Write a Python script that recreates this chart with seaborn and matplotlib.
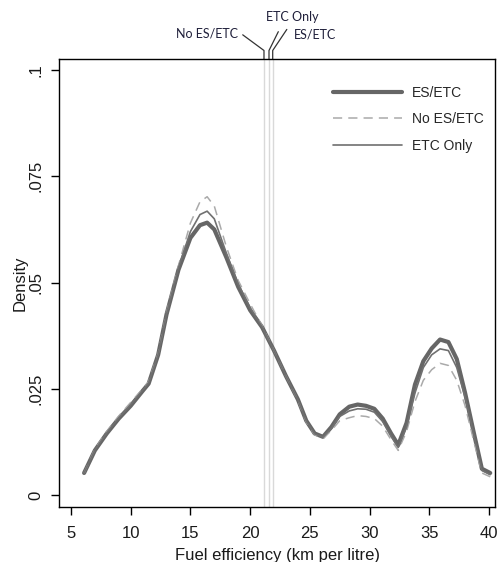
import pandas as pd
import matplotlib
matplotlib.use("Agg")
import matplotlib.pyplot as plt
import seaborn as sns

# evaluation points of the density curves (km per litre)
fuel = [6.1, 7.0, 8.0, 9.0, 10.0, 11.0, 11.5, 12.3, 13.0, 14.0, 15.0, 15.8,
        16.4, 17.0, 18.0, 19.0, 20.0, 21.0, 22.0, 23.0, 24.0, 24.7, 25.4,
        26.1, 26.8, 27.5, 28.3, 29.0, 29.7, 30.4, 31.1, 31.8, 32.4, 33.1,
        33.8, 34.5, 35.2, 35.9, 36.6, 37.3, 38.0, 38.7, 39.4, 40.1]

es_etc = [0.0052, 0.0105, 0.0145, 0.0180, 0.0210, 0.0245, 0.0262, 0.0330,
          0.0425, 0.0530, 0.0605, 0.0635, 0.0641, 0.0625, 0.0560, 0.0490,
          0.0435, 0.0395, 0.0340, 0.0280, 0.0225, 0.0175, 0.0145, 0.0137,
          0.0160, 0.0190, 0.0208, 0.0213, 0.0210, 0.0203, 0.0180, 0.0145,
          0.0118, 0.0170, 0.0260, 0.0315, 0.0345, 0.0366, 0.0360, 0.0320,
          0.0240, 0.0150, 0.0062, 0.0052]

no_es_etc = [0.0052, 0.0108, 0.0150, 0.0186, 0.0218, 0.0250, 0.0267, 0.0333,
             0.0430, 0.0540, 0.0640, 0.0690, 0.0702, 0.0680, 0.0585, 0.0505,
             0.0450, 0.0398, 0.0340, 0.0280, 0.0223, 0.0172, 0.0142, 0.0133,
             0.0152, 0.0175, 0.0182, 0.0187, 0.0185, 0.0180, 0.0162, 0.0130,
             0.0105, 0.0150, 0.0220, 0.0270, 0.0295, 0.0310, 0.0305, 0.0270,
             0.0210, 0.0130, 0.0052, 0.0043]

etc_only = [0.0052, 0.0106, 0.0147, 0.0182, 0.0213, 0.0247, 0.0264, 0.0331,
            0.0427, 0.0535, 0.0620, 0.0660, 0.0668, 0.0650, 0.0570, 0.0497,
            0.0440, 0.0396, 0.0340, 0.0280, 0.0224, 0.0174, 0.0144, 0.0136,
            0.0157, 0.0185, 0.0198, 0.0203, 0.0202, 0.0195, 0.0173, 0.0138,
            0.0112, 0.0160, 0.0240, 0.0300, 0.0330, 0.0344, 0.0340, 0.0300,
            0.0230, 0.0145, 0.0058, 0.0048]

groups = ["ES/ETC", "No ES/ETC", "ETC Only"]
means = [21.89, 21.16, 21.58]

y_ticks = [0, 0.025, 0.05, 0.075, 0.1]
y_tick_labels = ["0", ".025", ".05", ".075", ".1"]
x_ticks = [5, 10, 15, 20, 25, 30, 35, 40]

df = pd.DataFrame({
    "fuel": fuel * 3,
    "density": es_etc + no_es_etc + etc_only,
    "group": [g for g in groups for _ in fuel],
})

sns.set_style("ticks")
plt.rcParams["font.family"] = ["Liberation Sans", "DejaVu Sans"]

fig = plt.figure(figsize=(5.01, 5.62), dpi=100)
ax = fig.add_axes([0.1178, 0.0979, 0.988 - 0.1178, 0.895 - 0.0979])

# vertical lines at the group means
for m in means:
    ax.axvline(m, color="#d9d9d9", lw=1, zorder=1)

styles = {
    "ES/ETC": dict(color="#666666", lw=3.0, ls="-"),
    "No ES/ETC": dict(color="#aaaaaa", lw=1.1, ls=(0, (6, 4))),
    "ETC Only": dict(color="#707070", lw=1.2, ls="-"),
}
for g in groups:
    sub = df[df["group"] == g]
    sns.lineplot(data=sub, x="fuel", y="density", ax=ax, label=g,
                 color=styles[g]["color"], linewidth=styles[g]["lw"],
                 linestyle=styles[g]["ls"], zorder=3)

ax.set_xlim(4.0, 40.5)
ax.set_ylim(-0.0028, 0.1026)
ax.set_xticks(x_ticks)
ax.set_yticks(y_ticks)
ax.set_yticklabels(y_tick_labels, rotation=90, va="center")
ax.tick_params(axis="both", length=6, width=1, color="black", labelsize=12,
               labelcolor="#1a1a1a")
ax.tick_params(axis="x", pad=8)
ax.tick_params(axis="y", pad=5)
for s in ax.spines.values():
    s.set_visible(True)
    s.set_color("black")
    s.set_linewidth(1)

ax.set_xlabel("Fuel efficiency (km per litre)", fontsize=12, color="#1a1a1a",
              labelpad=4.5)
ax.set_ylabel("Density", fontsize=12, color="#1a1a1a", labelpad=1)

leg = ax.legend(loc="upper right", bbox_to_anchor=(1.028, 0.993),
                frameon=False, fontsize=10, handlelength=5.0,
                labelspacing=0.9, borderaxespad=1.1, handletextpad=0.7,
                borderpad=0.6)

# leader lines and labels above the plot for the mean lines
tr = ax.get_xaxis_transform()
leaders = [
    ("No ES/ETC", 21.16, 19.38, 1.054, 18.95, 1.056, "right"),
    ("ETC Only", 21.58, 22.36, 1.061, 23.55, 1.094, "center"),
    ("ES/ETC", 21.89, 23.07, 1.066, 23.68, 1.055, "left"),
]
for txt, xm, xe, ye, xt, yt, ha in leaders:
    ax.plot([xm, xm, xe], [1.0, 1.019, ye], transform=tr, color="#333333",
            lw=0.9, clip_on=False)
    ax.text(xt, yt, txt, transform=tr, ha=ha, va="center", fontsize=9,
            family=["Lato", "DejaVu Sans"], color="#1f1f3a")

fig.savefig("out.png", dpi=100)
